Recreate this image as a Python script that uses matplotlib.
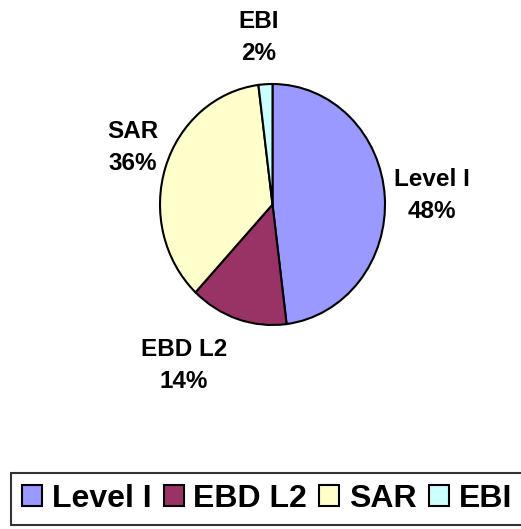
import matplotlib
matplotlib.use('Agg')
import matplotlib.pyplot as plt

labels = ['Level I', 'EBD L2', 'SAR', 'EBI']
shares = [48, 14, 36, 2]
colors = ['#9999FF', '#993366', '#FFFFCC', '#CCFFFF']

# label centres in pixels (x, y from top)
label_pos = [(432, 196), (184, 365), (133, 148), (259, 38)]

W, H = 521, 529
plt.rcParams['font.family'] = ['Liberation Sans', 'DejaVu Sans']
plt.rcParams['font.weight'] = 'bold'

fig = plt.figure(figsize=(W / 100, H / 100), dpi=100)
ax = fig.add_axes([160 / W, 1 - 325 / H, 225 / W, 241 / H])
wedges, _ = ax.pie(shares, colors=colors, startangle=90, counterclock=False,
                   wedgeprops=dict(edgecolor='black', linewidth=1.5))
ax.set_aspect('auto')
ax.set_xlim(-1, 1)
ax.set_ylim(-1, 1)

for lab, val, (px, py) in zip(labels, shares, label_pos):
    fig.text(px / W, 1 - py / H, f'{lab}\n{val}%', ha='center', va='center',
             fontsize=17.5, fontweight='bold', linespacing=1.5)

leg = fig.legend(wedges, labels, loc='upper left', ncol=4,
                 bbox_to_anchor=(11 / W, 1 - 473 / H), borderaxespad=0,
                 prop=dict(weight='bold', size=23),
                 handlelength=0.63, handleheight=0.63, handletextpad=0.3,
                 columnspacing=0.38, borderpad=0.35, fancybox=False)
leg.get_frame().set_edgecolor('black')
leg.get_frame().set_linewidth(1.5)
for h in leg.legend_handles:
    h.set_edgecolor('black')
    h.set_linewidth(1.5)

fig.savefig('out.png', dpi=100)
